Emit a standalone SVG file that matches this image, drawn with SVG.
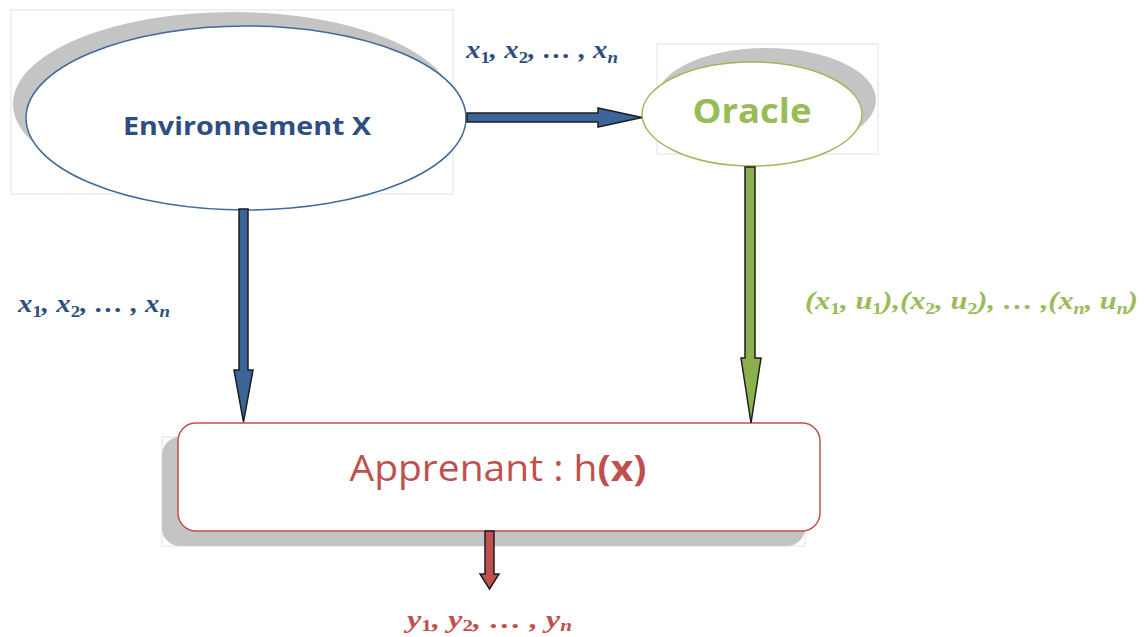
<svg xmlns="http://www.w3.org/2000/svg" width="1147" height="637" viewBox="0 0 1147 637">
<style>
.frame{fill:none;stroke:#e2e2e2;stroke-width:1}
.shadow{fill:#c4c4c4}
.math{font-family:"Liberation Serif","DejaVu Serif",serif;font-style:italic;font-weight:bold;font-size:26px}
.sub{font-size:17px}
.d{font-style:normal}
.arr{stroke:#1e1e1e;stroke-width:1.5;stroke-linejoin:miter}
</style>
<rect width="1147" height="637" fill="#ffffff"/>
<g id="environnement">
<rect class="frame" x="11" y="10" width="442" height="184"/>
<ellipse class="shadow" cx="233" cy="104" rx="220" ry="92"/>
<ellipse cx="246" cy="118" rx="220" ry="92" fill="#ffffff" stroke="#3f6a9a" stroke-width="1.5"/>
<text x="247" y="135" text-anchor="middle" font-family="Open Sans, Liberation Sans, sans-serif" font-weight="bold" font-size="25" fill="#2d4f7f" textLength="248" lengthAdjust="spacingAndGlyphs">Environnement X</text>
</g>
<g id="oracle">
<rect class="frame" x="657" y="44" width="221" height="110"/>
<ellipse class="shadow" cx="766" cy="100" rx="110" ry="52"/>
<ellipse cx="752" cy="114" rx="110" ry="52" fill="#ffffff" stroke="#9bbb59" stroke-width="1.5"/>
<text x="752" y="123" text-anchor="middle" font-family="Open Sans, Liberation Sans, sans-serif" font-weight="bold" font-size="34" fill="#9bbb59" textLength="119" lengthAdjust="spacingAndGlyphs">Oracle</text>
</g>
<g id="apprenant">
<rect class="frame" x="162" y="437" width="643" height="109"/>
<rect class="shadow" x="162" y="437" width="643" height="109" rx="18"/>
<rect x="178" y="423" width="642" height="108" rx="18" fill="#ffffff" stroke="#c0504d" stroke-width="1.5"/>
<text x="498" y="481" text-anchor="middle" font-family="Open Sans, Liberation Sans, sans-serif" font-size="36" fill="#c0504d" textLength="297" lengthAdjust="spacingAndGlyphs">Apprenant : h<tspan font-weight="bold">(x)</tspan></text>
</g>
<g id="connectors">
<path class="arr" fill="#3b6598" d="M467,113 L598,113 L598,108 L642,117.5 L598,127 L598,122 L467,122 Z"/>
<path class="arr" fill="#3b6598" d="M239,209 L248,209 L248,370 L253,370 L243.5,422 L234,370 L239,370 Z"/>
<path class="arr" fill="#8db04e" d="M745,167 L755,167 L755,358 L761,358 L751,423 L741,358 L745,358 Z"/>
<path class="arr" fill="#c0504d" d="M485,531 L494,531 L494,574 L499,574 L489.5,589 L480,574 L485,574 Z"/>
</g>
<g id="labels">
<text class="math" x="466" y="58" fill="#2d4f7f" textLength="152" lengthAdjust="spacingAndGlyphs">x<tspan class="sub d" dy="5">1</tspan><tspan dy="-5">, x</tspan><tspan class="sub d" dy="5">2</tspan><tspan dy="-5">, … , x</tspan><tspan class="sub" dy="5">n</tspan></text>
<text class="math" x="18" y="312" fill="#2d4f7f" textLength="152" lengthAdjust="spacingAndGlyphs">x<tspan class="sub d" dy="5">1</tspan><tspan dy="-5">, x</tspan><tspan class="sub d" dy="5">2</tspan><tspan dy="-5">, … , x</tspan><tspan class="sub" dy="5">n</tspan></text>
<text class="math" x="805" y="309" fill="#9bbb59" textLength="333" lengthAdjust="spacingAndGlyphs">(x<tspan class="sub d" dy="5">1</tspan><tspan dy="-5">, u</tspan><tspan class="sub d" dy="5">1</tspan><tspan dy="-5">),(x</tspan><tspan class="sub d" dy="5">2</tspan><tspan dy="-5">, u</tspan><tspan class="sub d" dy="5">2</tspan><tspan dy="-5">), … ,(x</tspan><tspan class="sub" dy="5">n</tspan><tspan dy="-5">, u</tspan><tspan class="sub" dy="5">n</tspan><tspan dy="-5">)</tspan></text>
<text class="math" x="407" y="628" fill="#c0504d" textLength="165" lengthAdjust="spacingAndGlyphs">y<tspan class="sub d" dy="3">1</tspan><tspan dy="-3">, y</tspan><tspan class="sub d" dy="3">2</tspan><tspan dy="-3">, … , y</tspan><tspan class="sub" dy="3">n</tspan></text>
</g>
</svg>
